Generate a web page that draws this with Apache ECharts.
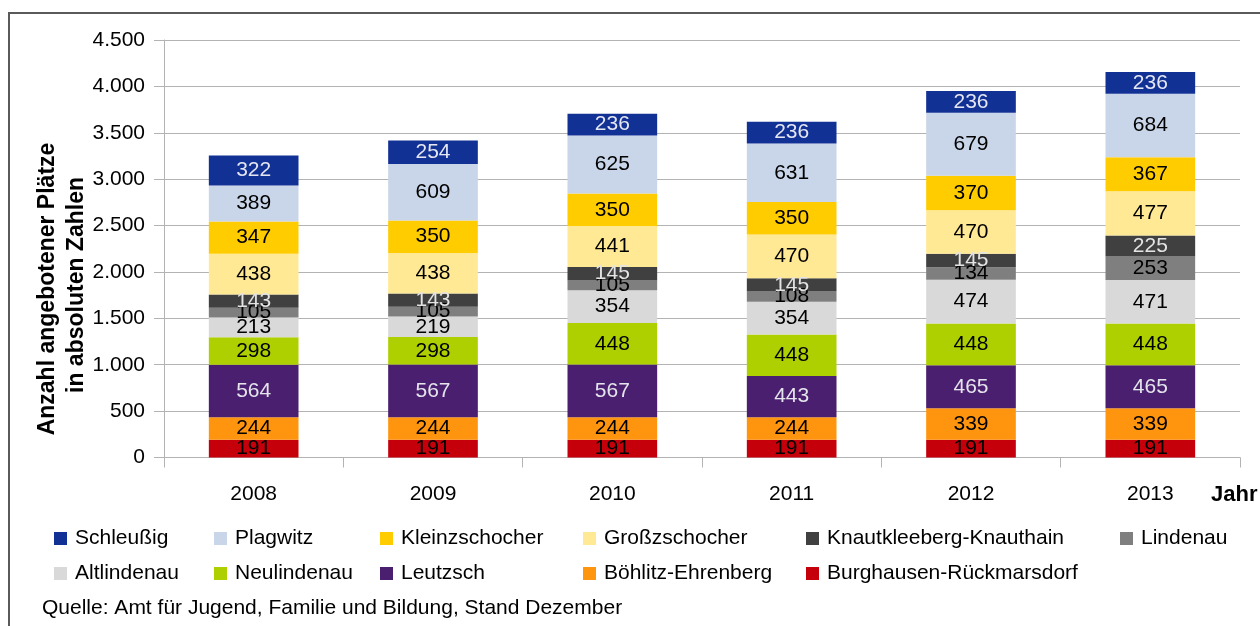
<!DOCTYPE html>
<html>
<head>
<meta charset="utf-8">
<script src="https://cdn.jsdelivr.net/npm/echarts@6/dist/echarts.min.js"></script>
<style>
  html, body { margin: 0; padding: 0; background: #fff; }
  #chart { width: 1260px; height: 626px; }
</style>
</head>
<body>
<div id="chart"></div>
<script>
// Daten: angebotene Plätze je Ortsteil
const years = ['2008', '2009', '2010', '2011', '2012', '2013']
const burghausen = [191, 191, 191, 191, 191, 191]
const boehlitz = [244, 244, 244, 244, 339, 339]
const leutzsch = [564, 567, 567, 443, 465, 465]
const neulindenau = [298, 298, 448, 448, 448, 448]
const altlindenau = [213, 219, 354, 354, 474, 471]
const lindenau = [105, 105, 105, 108, 134, 253]
const knautkleeberg = [143, 143, 145, 145, 145, 225]
const grosszschocher = [438, 438, 441, 470, 470, 477]
const kleinzschocher = [347, 350, 350, 350, 370, 367]
const plagwitz = [389, 609, 625, 631, 679, 684]
const schleussig = [322, 254, 236, 236, 236, 236]
const yTicks = { min: 0, max: 4500, interval: 500 }

const FONT = "'Liberation Sans', Arial, sans-serif"
const FS = 21

// Reihenfolge = Stapel von unten nach oben
const seriesDefs = [
  { name: 'Burghausen-Rückmarsdorf', data: burghausen, color: '#c5000b', label: '#000' },
  { name: 'Böhlitz-Ehrenberg', data: boehlitz, color: '#ff950e', label: '#000' },
  { name: 'Leutzsch', data: leutzsch, color: '#4b1f6f', label: '#e4e4ec' },
  { name: 'Neulindenau', data: neulindenau, color: '#aecf00', label: '#000' },
  { name: 'Altlindenau', data: altlindenau, color: '#d9d9d9', label: '#000' },
  { name: 'Lindenau', data: lindenau, color: '#7f7f7f', label: '#000' },
  { name: 'Knautkleeberg-Knauthain', data: knautkleeberg, color: '#404040', label: '#e4e4e4' },
  { name: 'Großzschocher', data: grosszschocher, color: '#ffe994', label: '#000' },
  { name: 'Kleinzschocher', data: kleinzschocher, color: '#ffcc00', label: '#000' },
  { name: 'Plagwitz', data: plagwitz, color: '#c9d5e8', label: '#000' },
  { name: 'Schleußig', data: schleussig, color: '#123195', label: '#e4e6f2' }
]

// Legende in Spalten wie im Original
const legendCols = [
  { left: 54, names: ['Schleußig', 'Altlindenau'] },
  { left: 214, names: ['Plagwitz', 'Neulindenau'] },
  { left: 380, names: ['Kleinzschocher', 'Leutzsch'] },
  { left: 583, names: ['Großzschocher', 'Böhlitz-Ehrenberg'] },
  { left: 806, names: ['Knautkleeberg-Knauthain', 'Burghausen-Rückmarsdorf'] },
  { left: 1120, names: ['Lindenau'] }
]

const formatThousands = v => String(v).replace(/\B(?=(\d{3})+(?!\d))/g, '.')

const chart = echarts.init(document.getElementById('chart'))

const option = {
  backgroundColor: '#ffffff',
  animation: false,
  textStyle: { fontFamily: FONT },
  grid: { left: 164, right: 20, top: 40, bottom: 168.5, containLabel: false },
  legend: legendCols.map(col => ({
    orient: 'vertical',
    left: col.left,
    top: 528,
    padding: 0,
    itemGap: 14,
    itemWidth: 13,
    itemHeight: 13,
    icon: 'rect',
    selectedMode: false,
    data: col.names,
    textStyle: { fontFamily: FONT, fontSize: FS, color: '#000', lineHeight: 21, padding: [0, 0, 0, 3] }
  })),
  xAxis: {
    type: 'category',
    data: years,
    axisLine: { lineStyle: { color: '#b3b3b3', width: 1 } },
    axisTick: { show: true, length: 10, alignWithLabel: false, lineStyle: { color: '#b3b3b3' } },
    axisLabel: { color: '#000', fontSize: FS, fontFamily: FONT, margin: 26 }
  },
  yAxis: {
    type: 'value',
    min: yTicks.min,
    max: yTicks.max,
    interval: yTicks.interval,
    axisLine: { show: true, lineStyle: { color: '#b3b3b3', width: 1 } },
    axisTick: { show: true, length: 10, lineStyle: { color: '#b3b3b3' } },
    splitLine: { lineStyle: { color: '#b3b3b3', width: 1 } },
    axisLabel: {
      color: '#000',
      fontSize: FS,
      fontFamily: FONT,
      margin: 19,
      formatter: v => formatThousands(v)
    }
  },
  series: seriesDefs.map(s => ({
    name: s.name,
    type: 'bar',
    stack: 'total',
    barWidth: '50%',
    data: s.data,
    itemStyle: { color: s.color },
    label: {
      show: true,
      position: 'inside',
      color: s.label,
      fontSize: FS,
      fontFamily: FONT,
      textBorderWidth: 0
    },
    emphasis: { disabled: true }
  })),
  graphic: [
    {
      type: 'rect',
      silent: true,
      shape: { x: 9, y: 13, width: 1400, height: 800 },
      style: { fill: 'none', stroke: '#5a5a5a', lineWidth: 2 }
    },
    {
      type: 'text',
      x: 48,
      y: 289,
      rotation: Math.PI / 2,
      style: {
        text: 'Anzahl angebotener Plätze',
        font: 'bold 23px ' + FONT,
        fill: '#000',
        textAlign: 'center',
        textVerticalAlign: 'middle',
        align: 'center',
        verticalAlign: 'middle'
      }
    },
    {
      type: 'text',
      x: 77,
      y: 285,
      rotation: Math.PI / 2,
      style: {
        text: 'in absoluten Zahlen',
        font: 'bold 23px ' + FONT,
        fill: '#000',
        textAlign: 'center',
        textVerticalAlign: 'middle',
        align: 'center',
        verticalAlign: 'middle'
      }
    },
    {
      type: 'text',
      x: 1211,
      y: 495,
      style: {
        text: 'Jahr',
        font: 'bold 22px ' + FONT,
        fill: '#000',
        textAlign: 'left',
        textVerticalAlign: 'middle',
        align: 'left',
        verticalAlign: 'middle'
      }
    },
    {
      type: 'text',
      x: 42,
      y: 608,
      style: {
        text: 'Quelle: Amt für Jugend, Familie und Bildung, Stand Dezember',
        font: FS + 'px ' + FONT,
        fill: '#000',
        textAlign: 'left',
        textVerticalAlign: 'middle',
        align: 'left',
        verticalAlign: 'middle'
      }
    }
  ]
}

chart.setOption(option)
</script>
</body>
</html>
